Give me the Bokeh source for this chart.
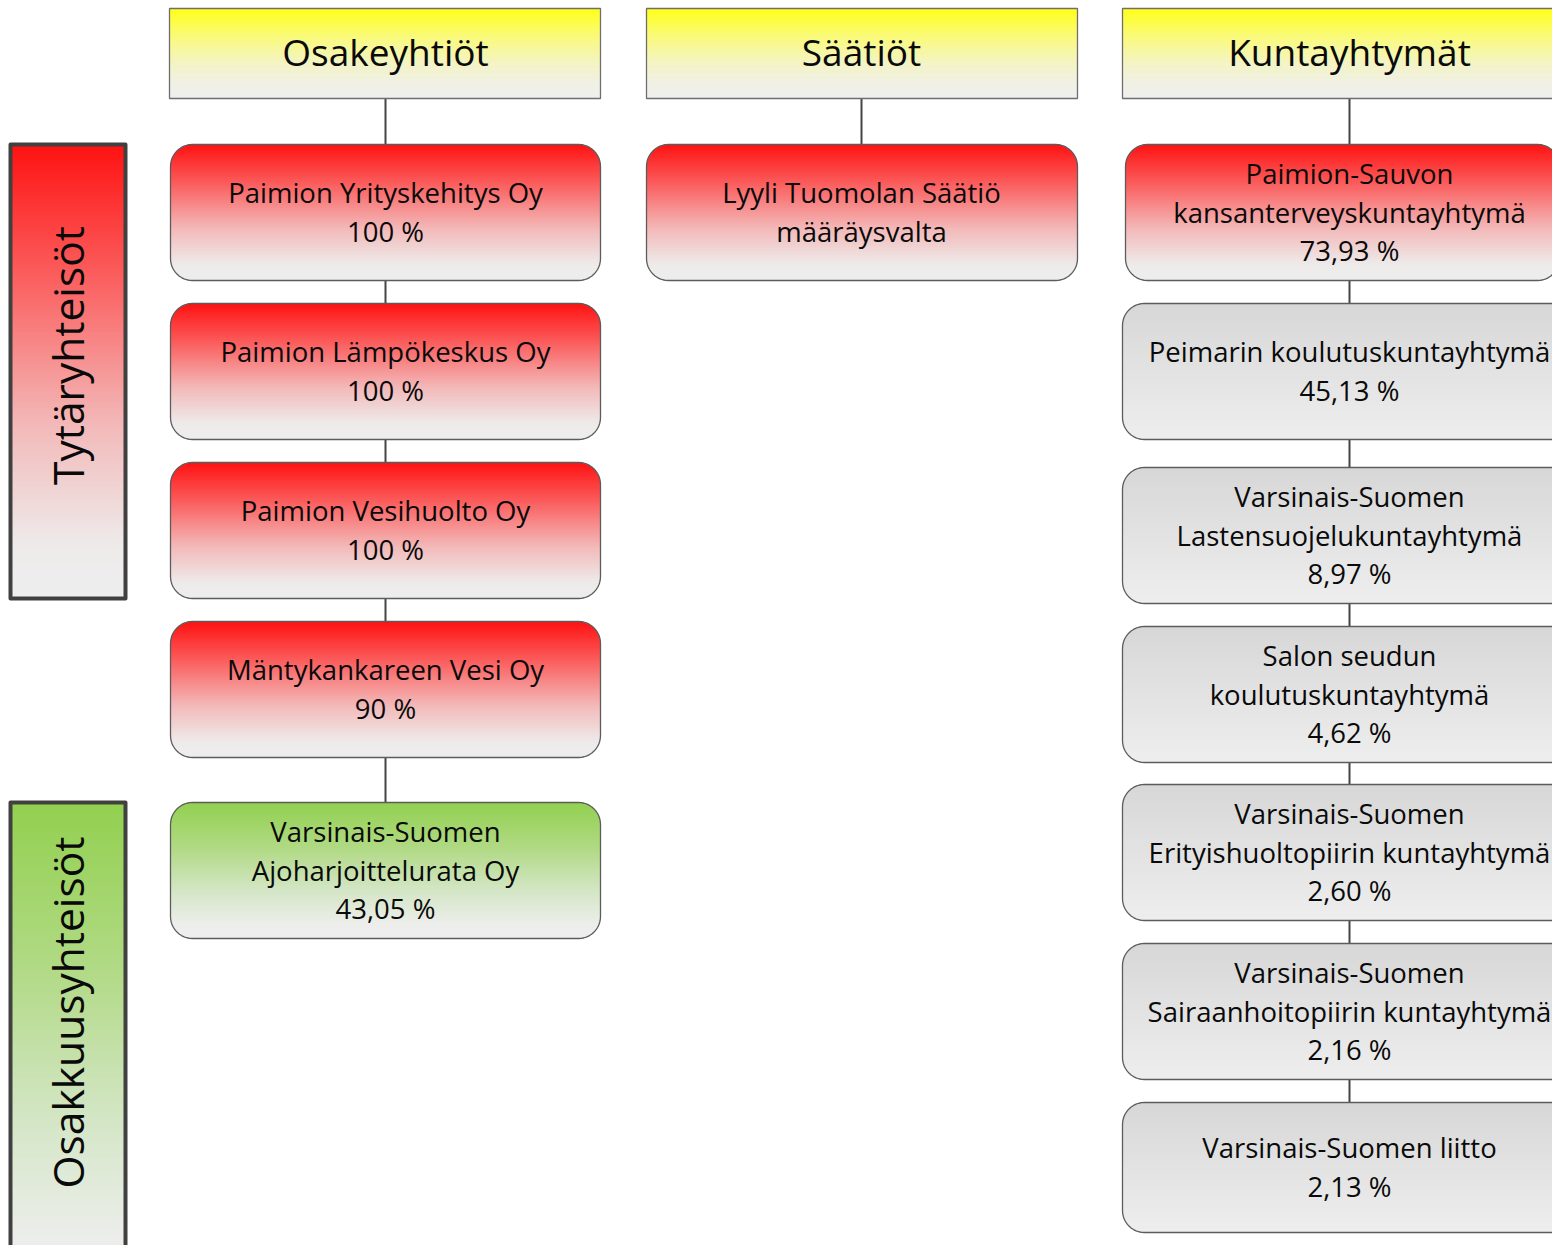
import math
from bokeh.plotting import figure
from bokeh.models import Range1d, ColumnDataSource
from bokeh.core.properties import value
from bokeh.embed import file_html
from bokeh.resources import INLINE

# ---------------- data ----------------
column_titles = ["Osakeyhtiöt", "Säätiöt", "Kuntayhtymät"]

osakeyhtiot_names = ["Paimion Yrityskehitys Oy", "Paimion Lämpökeskus Oy",
                     "Paimion Vesihuolto Oy", "Mäntykankareen Vesi Oy",
                     "Varsinais-Suomen\nAjoharjoittelurata Oy"]
osakeyhtiot_shares = ["100 %", "100 %", "100 %", "90 %", "43,05 %"]
osakeyhtiot_kind = ["tytar", "tytar", "tytar", "tytar", "osakkuus"]

saatiot_names = ["Lyyli Tuomolan Säätiö"]
saatiot_shares = ["määräysvalta"]
saatiot_kind = ["tytar"]

kuntayhtymat_names = ["Paimion-Sauvon\nkansanterveyskuntayhtymä",
                      "Peimarin koulutuskuntayhtymä",
                      "Varsinais-Suomen\nLastensuojelukuntayhtymä",
                      "Salon seudun\nkoulutuskuntayhtymä",
                      "Varsinais-Suomen\nErityishuoltopiirin kuntayhtymä",
                      "Varsinais-Suomen\nSairaanhoitopiirin kuntayhtymä",
                      "Varsinais-Suomen liitto"]
kuntayhtymat_shares = ["73,93 %", "45,13 %", "8,97 %", "4,62 %", "2,60 %", "2,16 %", "2,13 %"]
kuntayhtymat_kind = ["tytar", "muu", "muu", "muu", "muu", "muu", "muu"]

group_labels = ["Tytäryhteisöt", "Osakkuusyhteisöt"]
group_kind = ["tytar", "osakkuus"]

# ---------------- layout (pixel positions of the diagram) ----------------
W, H = 1552, 1245
def Y(py):
    return H - py

header_x = [(169, 600), (646, 1077), (1122, 1590)]
header_y = (8, 98)
col_cx = [385, 861, 1349]
col_box_x = [(170, 600), (646, 1077), (1122, 1590)]
red3_x = (1125, 1559)
col_tops = [[144, 303, 462, 621, 802], [144], [144, 303, 467, 626, 784, 943, 1102]]
col_heights = [[136] * 5, [136], [136] * 6 + [130]]
side_x = (10, 125)
side_y = [(144, 598), (802, 1290)]
RADIUS = 22
LINE_STEP = 38.5
FONT = "Open Sans"

# ---------------- styles ----------------
STOPS = {
    "tytar": [(0, (255, 18, 18)), (0.33, (250, 105, 105)), (0.62, (243, 185, 185)), (0.88, (238, 234, 234)), (1, (238, 238, 238))],
    "osakkuus": [(0, (146, 208, 80)), (0.35, (178, 218, 135)), (0.65, (212, 230, 198)), (0.9, (237, 238, 236)), (1, (238, 238, 238))],
    "muu": [(0, (215, 215, 215)), (1, (238, 238, 238))],
    "header": [(0, (255, 255, 25)), (0.3, (250, 250, 120)), (0.6, (244, 244, 195)), (0.85, (240, 240, 232)), (1, (239, 239, 236))],
}

def interp(stops, t):
    t = max(0.0, min(1.0, t))
    for (t0, c0), (t1, c1) in zip(stops[:-1], stops[1:]):
        if t <= t1:
            f = 0 if t1 == t0 else (t - t0) / (t1 - t0)
            return "#%02x%02x%02x" % tuple(int(round(a + (b - a) * f)) for a, b in zip(c0, c1))
    return "#%02x%02x%02x" % stops[-1][1]

stripes = dict(left=[], right=[], top=[], bottom=[], color=[])
def gradient(x0, x1, top, bottom, r, stops):
    h = bottom - top
    py = top
    while py < bottom:
        mid = py + 0.5
        dy = min(mid - top, bottom - mid)
        inset = 0.0
        if r > 0 and dy < r:
            inset = r - math.sqrt(max(0.0, r * r - (r - dy) ** 2))
        stripes["left"].append(x0 + inset)
        stripes["right"].append(x1 - inset)
        stripes["top"].append(Y(py))
        stripes["bottom"].append(Y(min(bottom, py + 1.6)))
        stripes["color"].append(interp(stops, (mid - top) / h))
        py += 1

outlines_xs, outlines_ys = [], []
def rounded_outline(x0, x1, top, bottom, r):
    xs, ys = [], []
    corners = [(x1 - r, top + r, -90, 0), (x1 - r, bottom - r, 0, 90),
               (x0 + r, bottom - r, 90, 180), (x0 + r, top + r, 180, 270)]
    for cx, cy, a0, a1 in corners:
        for k in range(13):
            a = math.radians(a0 + (a1 - a0) * k / 12)
            xs.append(cx + r * math.cos(a))
            ys.append(Y(cy + r * math.sin(a)))
    xs.append(xs[0]); ys.append(ys[0])
    outlines_xs.append(xs); outlines_ys.append(ys)

p = figure(width=W, height=H, output_backend="svg", toolbar_location=None,
           x_range=Range1d(0, W), y_range=Range1d(0, H),
           x_axis_type=None, y_axis_type=None, min_border=0,
           outline_line_color=None, background_fill_color="white",
           border_fill_color="white")
p.grid.visible = False

# connectors (behind the boxes)
for ci in range(3):
    last = col_tops[ci][-1]
    p.line([col_cx[ci], col_cx[ci]], [Y(header_y[1]), Y(last + 2)], line_color="#454545", line_width=2)

texts = dict(x=[], y=[], text=[])

# headers
for ci, title in enumerate(column_titles):
    x0, x1 = header_x[ci]
    gradient(x0, x1, header_y[0], header_y[1], 0, STOPS["header"])

# boxes
columns = [(osakeyhtiot_names, osakeyhtiot_shares, osakeyhtiot_kind),
           (saatiot_names, saatiot_shares, saatiot_kind),
           (kuntayhtymat_names, kuntayhtymat_shares, kuntayhtymat_kind)]
for ci, (names, shares, kinds) in enumerate(columns):
    for ri, (nm, sh, kd) in enumerate(zip(names, shares, kinds)):
        top = col_tops[ci][ri]
        bottom = top + col_heights[ci][ri]
        x0, x1 = col_box_x[ci]
        if ci == 2 and kd == "tytar":
            x0, x1 = red3_x
        gradient(x0, x1, top, bottom, RADIUS, STOPS[kd])
        rounded_outline(x0, x1, top, bottom, RADIUS)
        lines = nm.split("\n") + [sh]
        cy = (top + bottom) / 2
        n = len(lines)
        for li, ln in enumerate(lines):
            texts["x"].append(col_cx[ci])
            texts["y"].append(Y(cy - 0.5 + (li - (n - 1) / 2) * LINE_STEP))
            texts["text"].append(ln)

# side group boxes
for gi, kd in enumerate(group_kind):
    t, b = side_y[gi]
    gradient(side_x[0], side_x[1], t, b, 0, STOPS[kd])

p.quad(left="left", right="right", top="top", bottom="bottom", fill_color="color",
       line_color=None, source=ColumnDataSource(stripes))

# header borders
p.quad(left=[h[0] for h in header_x], right=[h[1] for h in header_x],
       top=[Y(header_y[0])] * 3, bottom=[Y(header_y[1])] * 3,
       fill_color=None, line_color="#6e6e6e", line_width=1.3)

# box outlines
p.multi_line(xs=outlines_xs, ys=outlines_ys, line_color="#5c5c5c", line_width=1.3)

# side borders
p.quad(left=[side_x[0]] * 2, right=[side_x[1]] * 2,
       top=[Y(s[0]) for s in side_y], bottom=[Y(s[1]) for s in side_y],
       fill_color=None, line_color="#404040", line_width=4, line_join="round")

# texts
p.text(x="x", y="y", text="text", source=ColumnDataSource(texts),
       text_font=value(FONT), text_font_size=value("27.5px"), text_color="#0a0a0a",
       text_align="center", text_baseline="middle")

p.text(x=col_cx, y=[Y(51)] * 3, text=column_titles,
       text_font=value(FONT), text_font_size=value("37px"), text_color="#0a0a0a",
       text_align="center", text_baseline="middle")

side_cx = (side_x[0] + side_x[1]) / 2
p.text(x=[side_cx - 1, side_cx - 1], y=[Y(355), Y(1012)], text=group_labels, angle=math.pi / 2,
       text_font=value(FONT), text_font_size=value("42.5px"), text_color="#0a0a0a",
       text_align="center", text_baseline="middle")

open("out.html", "w").write(file_html(p, INLINE))
